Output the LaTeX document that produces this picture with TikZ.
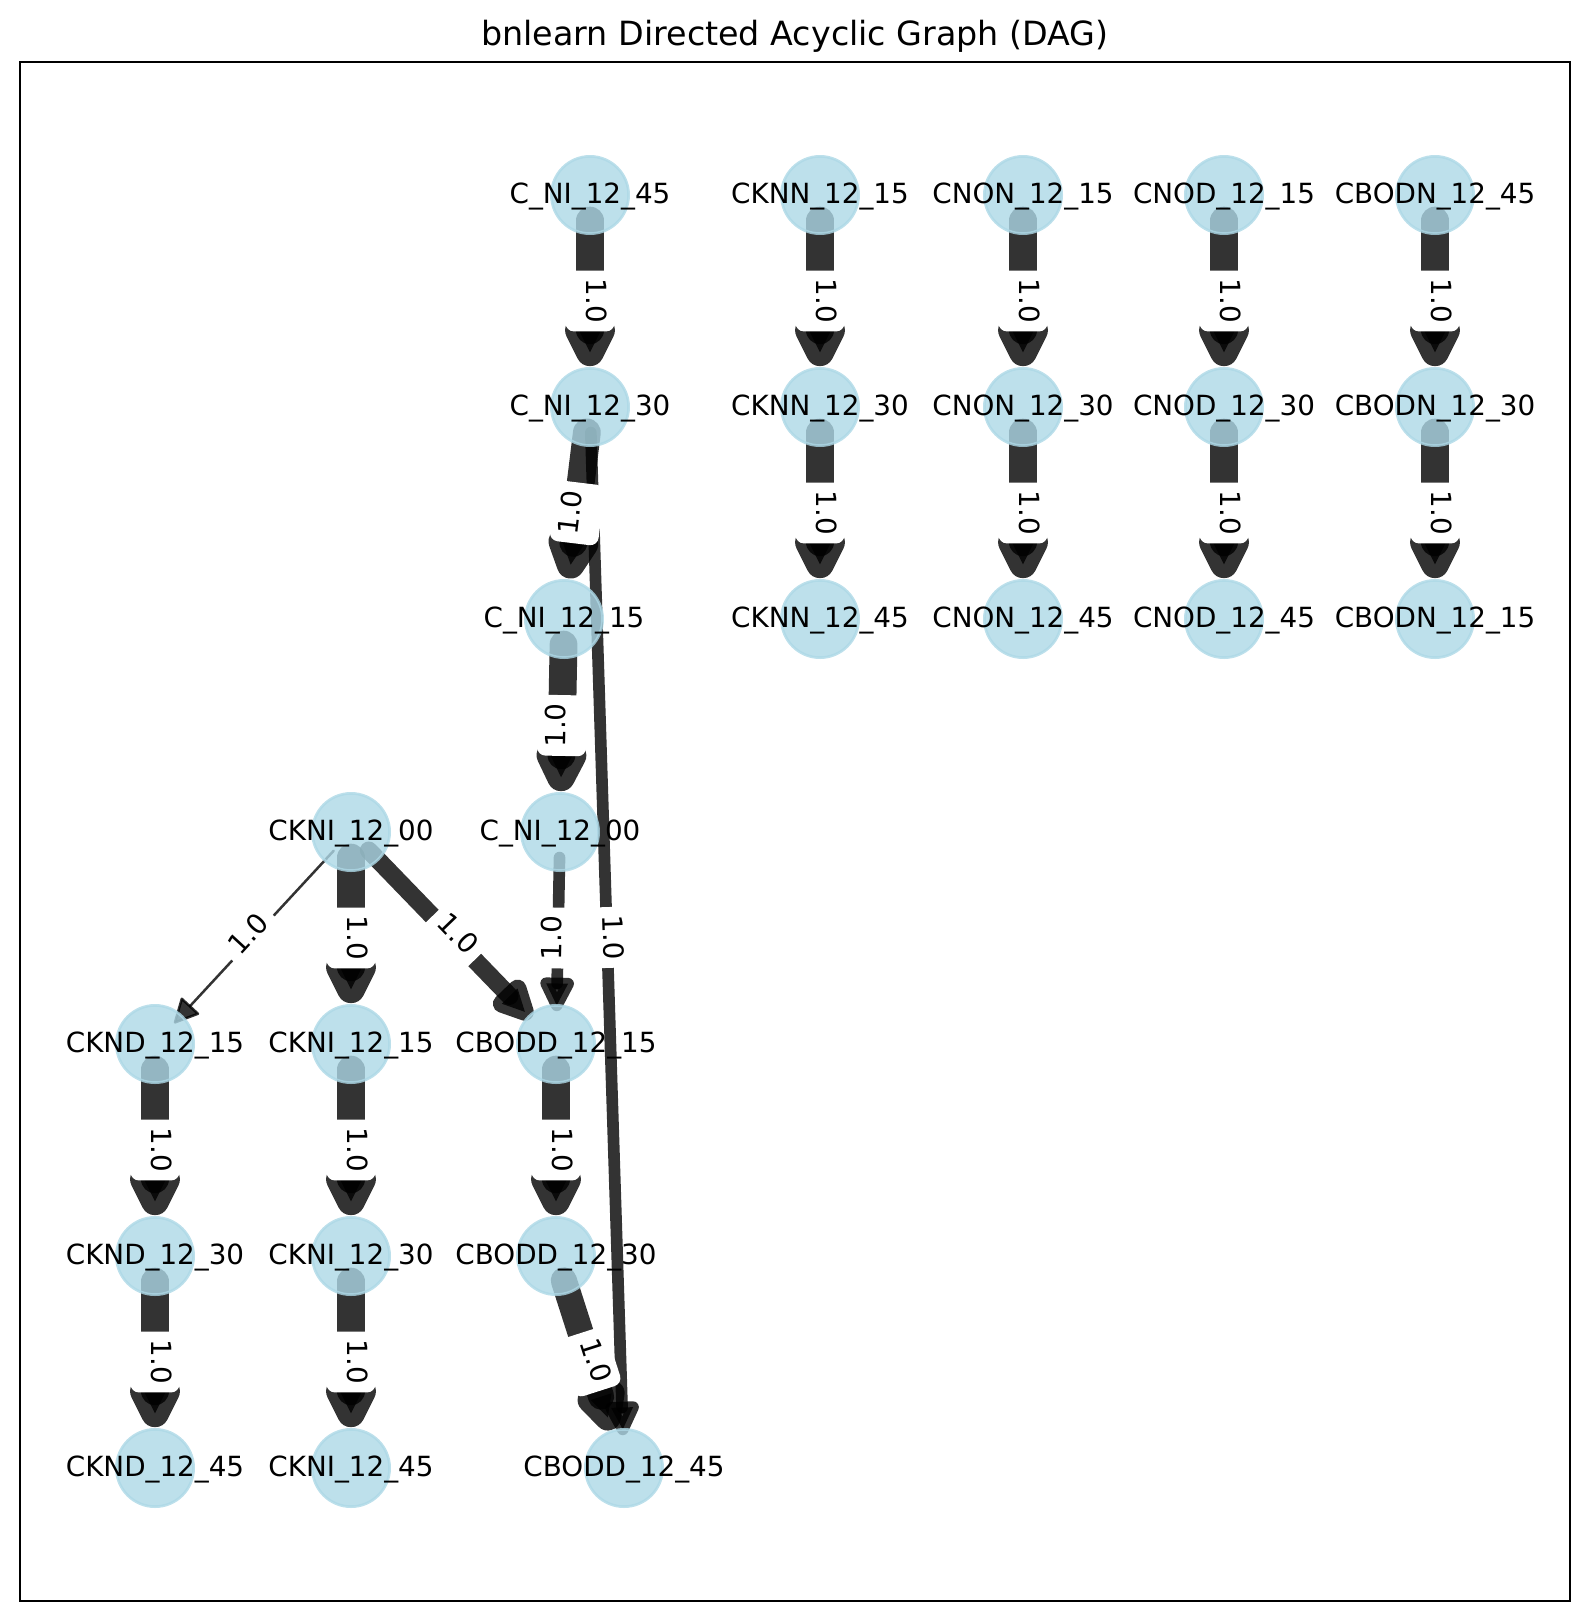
\documentclass[tikz,border=0pt]{standalone}
\usepackage{fontspec}
\setmainfont{DejaVu Sans}
\usetikzlibrary{calc}
\pgfdeclarelayer{edges}
\pgfsetlayers{edges,main}
\definecolor{nodeblue}{RGB}{173,216,230}
\newcommand{\vname}[1]{\makebox[0pt]{#1}} % name wider than its circle
\tikzset{
x=0.36pt, y=-0.36pt, % one unit is one pixel of the plot, y grows downward
var/.style={circle, minimum size=27.8pt, inner sep=0pt, fill=nodeblue, draw=nodeblue, line width=1pt, fill opacity=0.8, draw opacity=0.8, text opacity=1, font=\fontsize{10}{12}\selectfont, text height=7.3pt, text depth=1pt}, % the variables
shaft/.style={draw=black, opacity=0.8, line cap=round}, % body of an edge
head/.style={fill=black, draw=black, opacity=0.8, line join=round}, % filled arrow head
weight/.style={fill=white, rounded corners=3pt, inner xsep=3pt, inner ysep=3pt, text height=7.05pt, text depth=4.55pt, font=\fontsize{10}{12}\selectfont}, % edge strength
}

\begin{document}
\begin{tikzpicture}
    \useasboundingbox (0,0) rectangle (1589,1622);
    \node[anchor=base, font=\fontsize{12}{14}\selectfont] (title) at (795,45) {bnlearn Directed Acyclic Graph (DAG)};
    \draw[line width=0.8pt] (20,62) rectangle (1570,1601);

    \node[var] (cni45) at (590,195) {\vname{C\_NI\_12\_45}};
    \node[var] (cni30) at (590,407) {\vname{C\_NI\_12\_30}};
    \node[var] (cni15) at (564,619) {\vname{C\_NI\_12\_15}};
    \node[var] (cni00) at (560,832) {\vname{C\_NI\_12\_00}};
    \node[var] (ckni00) at (351,832) {\vname{CKNI\_12\_00}};
    \node[var] (cknd15) at (155,1044) {\vname{CKND\_12\_15}};
    \node[var] (cknd30) at (155,1256) {\vname{CKND\_12\_30}};
    \node[var] (cknd45) at (155,1468) {\vname{CKND\_12\_45}};
    \node[var] (ckni15) at (351,1044) {\vname{CKNI\_12\_15}};
    \node[var] (ckni30) at (351,1256) {\vname{CKNI\_12\_30}};
    \node[var] (ckni45) at (351,1468) {\vname{CKNI\_12\_45}};
    \node[var] (cbodd15) at (556,1044) {\vname{CBODD\_12\_15}};
    \node[var] (cbodd30) at (556,1256) {\vname{CBODD\_12\_30}};
    \node[var] (cbodd45) at (624,1468) {\vname{CBODD\_12\_45}};
    \node[var] (cknn15) at (820,195) {\vname{CKNN\_12\_15}};
    \node[var] (cknn30) at (820,407) {\vname{CKNN\_12\_30}};
    \node[var] (cknn45) at (820,619) {\vname{CKNN\_12\_45}};
    \node[var] (cnon15) at (1023,195) {\vname{CNON\_12\_15}};
    \node[var] (cnon30) at (1023,407) {\vname{CNON\_12\_30}};
    \node[var] (cnon45) at (1023,619) {\vname{CNON\_12\_45}};
    \node[var] (cnod15) at (1224,195) {\vname{CNOD\_12\_15}};
    \node[var] (cnod30) at (1224,407) {\vname{CNOD\_12\_30}};
    \node[var] (cnod45) at (1224,619) {\vname{CNOD\_12\_45}};
    \node[var] (cbodn45) at (1435,195) {\vname{CBODN\_12\_45}};
    \node[var] (cbodn30) at (1435,407) {\vname{CBODN\_12\_30}};
    \node[var] (cbodn15) at (1435,619) {\vname{CBODN\_12\_15}};

    \begin{pgfonlayer}{edges}
    % shaft from inside the source, head stops at the target
    \foreach \a/\b/\w in {cni45/cni30/10pt, cni30/cni15/10pt, cni15/cni00/10pt, cni00/cbodd15/4.2pt,
        cni30/cbodd45/4.2pt, ckni00/cknd15/0.9pt, ckni00/ckni15/10pt, ckni00/cbodd15/6.4pt,
        cknd15/cknd30/10pt, cknd30/cknd45/10pt, ckni15/ckni30/10pt, ckni30/ckni45/10pt,
        cbodd15/cbodd30/10pt, cbodd30/cbodd45/9.4pt, cknn15/cknn30/10pt, cknn30/cknn45/10pt,
        cnon15/cnon30/10pt, cnon30/cnon45/10pt, cnod15/cnod30/10pt, cnod30/cnod45/10pt,
        cbodn45/cbodn30/10pt, cbodn30/cbodn15/10pt} {
        \coordinate (s) at ($(\a)!9.2pt!(\b)$);
        \coordinate (t) at ($(\b)!9.7pt+\w!(\a)$);
        \coordinate (r) at ($(t)!7.9pt!(\a)$);
        \draw[shaft, line width=\w] (s) -- (r);
        \filldraw[head, line width=\w] (t) -- ($(r)!3.96pt!90:(t)$) -- ($(r)!3.96pt!-90:(t)$) -- cycle;
    }
    % the labels sit over every edge
    \foreach \a/\b/\r in {cni45/cni30/-90, cni30/cni15/83.1, cni15/cni00/88.9, cni00/cbodd15/88.9,
        cni30/cbodd45/-88.2, ckni00/cknd15/47.3, ckni00/ckni15/-90, ckni00/cbodd15/-46,
        cknd15/cknd30/-90, cknd30/cknd45/-90, ckni15/ckni30/-90, ckni30/ckni45/-90,
        cbodd15/cbodd30/-90, cbodd30/cbodd45/-72.2, cknn15/cknn30/-90, cknn30/cknn45/-90,
        cnon15/cnon30/-90, cnon30/cnon45/-90, cnod15/cnod30/-90, cnod30/cnod45/-90,
        cbodn45/cbodn30/-90, cbodn30/cbodn15/-90} {
        \node[weight, rotate=\r] at ($(\a)!0.5!(\b)$) {1.0};
    }
    \end{pgfonlayer}
\end{tikzpicture}
\end{document}
